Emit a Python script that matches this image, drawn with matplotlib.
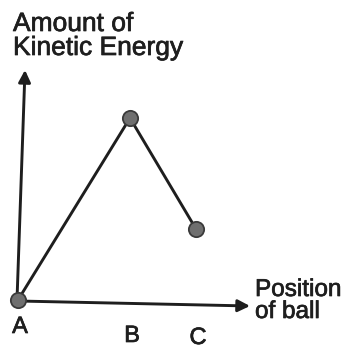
import matplotlib.pyplot as plt
import matplotlib.patheffects as pe

# ball positions and kinetic energy (arbitrary units, origin at A)
points = ['A', 'B', 'C']
position = [0, 112, 178]
energy = [0, 182, 71]

plt.rcParams['font.family'] = ['Liberation Sans', 'DejaVu Sans']

fig = plt.figure(figsize=(3.49, 3.49), dpi=100)
ax = fig.add_axes([0, 0, 1, 1])
ax.set_xlim(-18, 331)
ax.set_ylim(-49, 300)
ax.axis('off')

ink = '#1e1e1e'
thick = [pe.withStroke(linewidth=0.5, foreground=ink)]

# hand-drawn looking axes
ax.annotate('', xy=(7, 230), xytext=(-1, 0),
            arrowprops=dict(arrowstyle='-|>', color=ink, lw=2.1,
                            mutation_scale=18, shrinkA=0, shrinkB=0))
ax.annotate('', xy=(232, -6), xytext=(0, -1),
            arrowprops=dict(arrowstyle='-|>', color=ink, lw=2.1,
                            mutation_scale=18, shrinkA=0, shrinkB=0))

ax.plot(position, energy, color=ink, lw=2.1, zorder=3)
ax.plot(position, energy, 'o', ms=11, mfc='#6f6f6f', mec='#3a3a3a',
        mew=1.3, zorder=4)

# point labels below the axis
label_y = [-27, -36, -38]
for name, x, y in zip(points, position, label_y):
    ax.text(x + 2, y, name, ha='center', va='center',
            fontsize=17, color=ink, path_effects=thick)

ax.text(-5, 264, 'Amount of\nKinetic Energy', ha='left', va='center',
        fontsize=19, color=ink, linespacing=1.0, path_effects=thick)
ax.text(237, -1, 'Position\nof ball', ha='left', va='center',
        fontsize=17.5, color=ink, linespacing=1.0, path_effects=thick)

fig.savefig('out.png', dpi=100)
